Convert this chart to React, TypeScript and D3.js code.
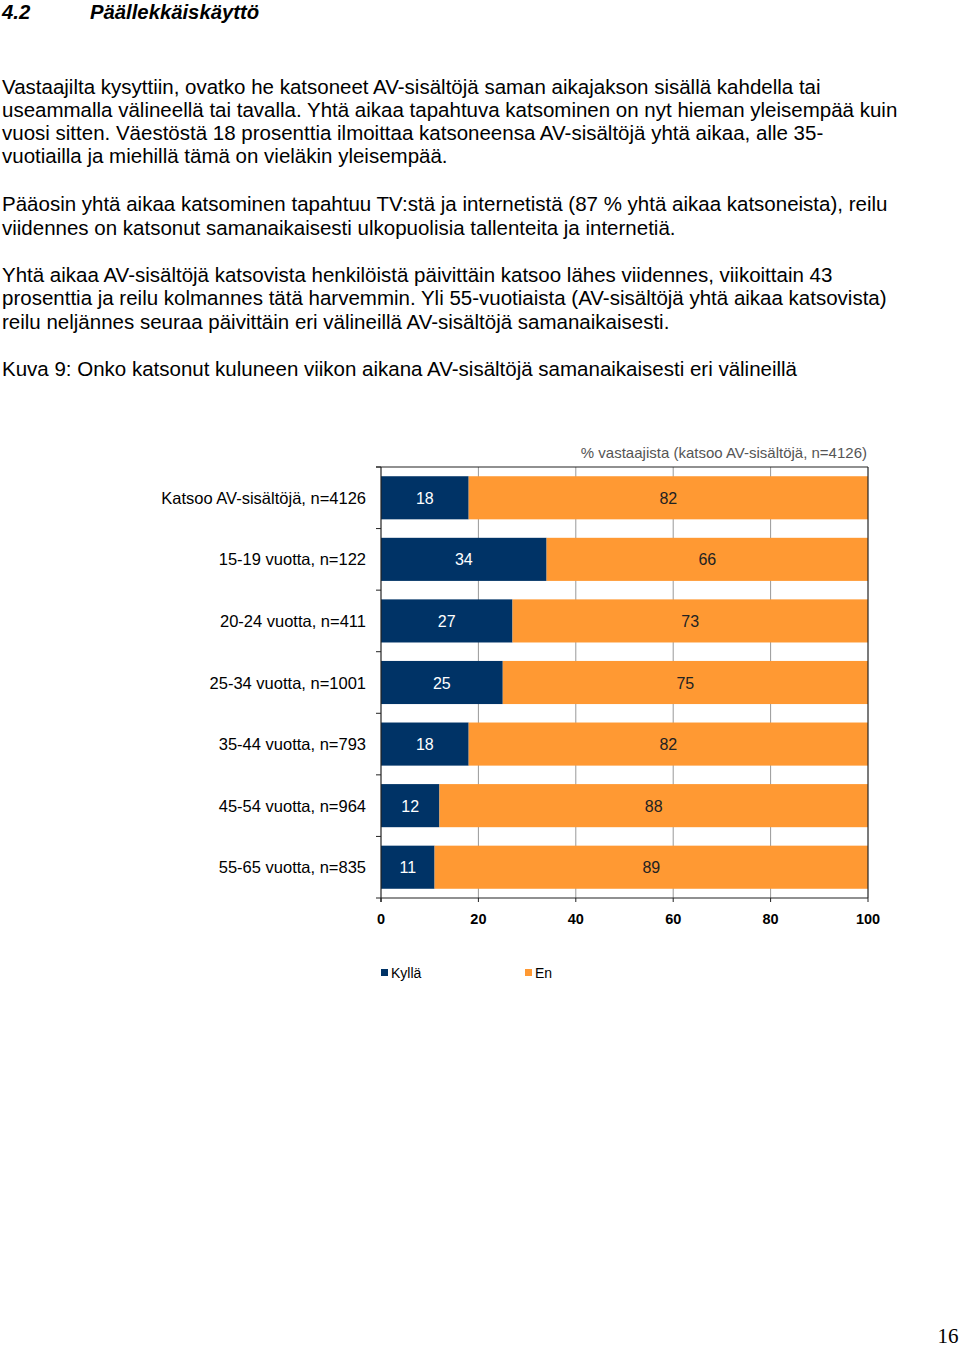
import React from "react";
import * as d3 from "d3";

const categories = [
  "Katsoo AV-sisältöjä, n=4126",
  "15-19 vuotta, n=122",
  "20-24 vuotta, n=411",
  "25-34 vuotta, n=1001",
  "35-44 vuotta, n=793",
  "45-54 vuotta, n=964",
  "55-65 vuotta, n=835",
];
const kylla = [18, 34, 27, 25, 18, 12, 11];
const en = [82, 66, 73, 75, 82, 88, 89];
const xTicks = [0, 20, 40, 60, 80, 100];
const seriesNames = ["Kyllä", "En"];
const colors = ["#003366", "#FF9933"];

const heading = { num: "4.2", title: "Päällekkäiskäyttö" };
const paragraphs = [
  [
    "Vastaajilta kysyttiin, ovatko he katsoneet AV-sisältöjä saman aikajakson sisällä kahdella tai",
    "useammalla välineellä tai tavalla. Yhtä aikaa tapahtuva katsominen on nyt hieman yleisempää kuin",
    "vuosi sitten. Väestöstä 18 prosenttia ilmoittaa katsoneensa AV-sisältöjä yhtä aikaa, alle 35-",
    "vuotiailla ja miehillä tämä on vieläkin yleisempää.",
  ],
  [
    "Pääosin yhtä aikaa katsominen tapahtuu TV:stä ja internetistä (87 % yhtä aikaa katsoneista), reilu",
    "viidennes on katsonut samanaikaisesti ulkopuolisia tallenteita ja internetiä.",
  ],
  [
    "Yhtä aikaa AV-sisältöjä katsovista henkilöistä päivittäin katsoo lähes viidennes, viikoittain 43",
    "prosenttia ja reilu kolmannes tätä harvemmin. Yli 55-vuotiaista (AV-sisältöjä yhtä aikaa katsovista)",
    "reilu neljännes seuraa päivittäin eri välineillä AV-sisältöjä samanaikaisesti.",
  ],
];
const paraBaselines = [[94, 117, 140, 163], [211, 235], [282, 305, 329]];
const caption = "Kuva 9: Onko katsonut kuluneen viikon aikana AV-sisältöjä samanaikaisesti eri välineillä";
const subtitle = "% vastaajista (katsoo AV-sisältöjä, n=4126)";

export default function App() {
  const left = 381, right = 868, top = 467, bottom = 898;
  const x = d3.scaleLinear().domain([0, 100]).range([left, right]);
  const y = d3.scaleBand<string>().domain(categories).range([top, bottom]).paddingInner(0.3).paddingOuter(0.15);
  const band = d3.scaleBand<string>().domain(categories).range([top, bottom]);
  const font = "'Liberation Sans', Arial, Helvetica, sans-serif";

  const stackData = categories.map((c, i) => ({ cat: c, Kyllä: kylla[i], En: en[i] }));
  const stacked = d3.stack<any>().keys(seriesNames)(stackData);

  return (
    <svg width={960} height={1347} style={{ position: "absolute", left: 0, top: 0, background: "#fff" }} fontFamily={font}>
      <rect x={0} y={0} width={960} height={1347} fill="#fff" />
      <text x={2} y={19} fontSize={20.3} fontWeight="bold" fontStyle="italic" fill="#000">{heading.num}</text>
      <text x={90} y={19} fontSize={20.3} fontWeight="bold" fontStyle="italic" fill="#000">{heading.title}</text>
      {paragraphs.map((p, pi) =>
        p.map((line, li) => (
          <text key={pi + "-" + li} x={2} y={paraBaselines[pi][li]} fontSize={20.5} fill="#000">{line}</text>
        ))
      )}
      <text x={2} y={376} fontSize={20.5} fill="#000">{caption}</text>

      <text x={867} y={458} fontSize={15} fill="#555" textAnchor="end">{subtitle}</text>

      {/* gridlines */}
      {xTicks.slice(1, -1).map((t) => (
        <line key={"g" + t} x1={x(t)} x2={x(t)} y1={top} y2={bottom} stroke="#999" strokeWidth={1} />
      ))}

      {/* bars */}
      {stacked.map((s, si) =>
        s.map((d, i) => (
          <rect key={si + "-" + i} x={x(d[0])} y={y(categories[i])!} width={x(d[1]) - x(d[0])} height={y.bandwidth()} fill={colors[si]} />
        ))
      )}
      {stacked.map((s, si) =>
        s.map((d, i) => (
          <text key={"l" + si + "-" + i} x={(x(d[0]) + x(d[1])) / 2} y={y(categories[i])! + y.bandwidth() / 2 + 6}
            fontSize={16} textAnchor="middle" fill={si === 0 ? "#fff" : "#222"}>{d[1] - d[0]}</text>
        ))
      )}

      {/* frame */}
      <line x1={376} x2={right} y1={top} y2={top} stroke="#222" strokeWidth={1.2} />
      <line x1={right} x2={right} y1={top} y2={bottom} stroke="#222" strokeWidth={1.2} />
      <line x1={left} x2={left} y1={top} y2={bottom + 4} stroke="#222" strokeWidth={1.2} />
      <line x1={376} x2={right} y1={bottom} y2={bottom} stroke="#222" strokeWidth={1.2} />
      {categories.map((c) => (
        <line key={"t" + c} x1={376} x2={left} y1={band(c)!} y2={band(c)!} stroke="#222" strokeWidth={1} />
      ))}
      {xTicks.map((t) => (
        <line key={"xt" + t} x1={x(t)} x2={x(t)} y1={bottom} y2={bottom + 4} stroke="#222" strokeWidth={1} />
      ))}
      {xTicks.map((t) => (
        <text key={"xl" + t} x={x(t)} y={924} fontSize={14.5} fontWeight="bold" textAnchor="middle" fill="#000">{t}</text>
      ))}

      {/* category labels */}
      {categories.map((c) => (
        <text key={"c" + c} x={366} y={y(c)! + y.bandwidth() / 2 + 6} fontSize={16.5} textAnchor="end" fill="#000">{c}</text>
      ))}

      {/* legend */}
      {seriesNames.map((n, i) => (
        <g key={"lg" + n} transform={`translate(${i === 0 ? 381 : 525},0)`}>
          <rect x={0} y={969} width={7} height={7} fill={colors[i]} />
          <text x={10} y={978} fontSize={14} fill="#000">{n}</text>
        </g>
      ))}

      <text x={948} y={1343} fontSize={21} textAnchor="middle" fontFamily="'Liberation Serif', 'Times New Roman', serif" fill="#000">16</text>
    </svg>
  );
}
